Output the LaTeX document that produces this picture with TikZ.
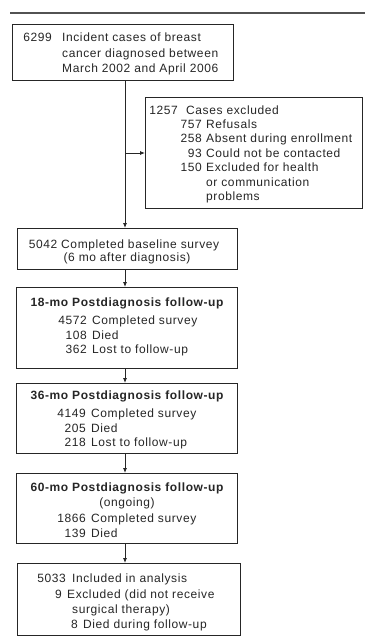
\documentclass[tikz,border=0pt]{standalone}
\usepackage{fontspec}
\setmainfont{Liberation Sans}[LetterSpace=5.0]
\usetikzlibrary{arrows.meta}
\definecolor{ink}{gray}{0.15}
\begin{document}
\begin{tikzpicture}[x=1pt,y=-1pt,
 box/.style={draw=ink, line width=0.8pt, inner sep=0pt, anchor=north west},
 txt/.style={inner sep=0pt, text=ink, font=\fontsize{12}{14}\selectfont},
 tl/.style={txt, anchor=base west},
 tr/.style={txt, anchor=base east},
 tc/.style={txt, anchor=base},
 ttl/.style={txt, anchor=base, font=\fontsize{12}{14}\selectfont\bfseries},
 arr/.style={draw=ink, line width=0.8pt, -{Latex[length=5pt,width=4pt]}}]
\useasboundingbox (0,0) rectangle (365,638);
\fill[white] (0,0) rectangle (365,638);
% header rule
\draw[ink!80, line width=1.2pt] (10,13) -- (365,13);
% boxes
\node[box, minimum width=221pt, minimum height=56pt] (b1) at (12,24) {};
\node[box, minimum width=217pt, minimum height=111pt] (ex) at (145,97) {};
\node[box, minimum width=220pt, minimum height=41pt] (b2) at (17,228) {};
\node[box, minimum width=221pt, minimum height=81pt] (b3) at (16,287) {};
\node[box, minimum width=221pt, minimum height=70pt] (b4) at (16,383) {};
\node[box, minimum width=221pt, minimum height=70pt] (b5) at (16,473) {};
\node[box, minimum width=223pt, minimum height=72pt] (b6) at (17,563) {};
% box 1
\node[tr] (n1) at (52,41) {6299};
\node[tl] (t1a) at (62,41) {Incident cases of breast};
\node[tl] (t1b) at (62,57) {cancer diagnosed between};
\node[tl] (t1c) at (62,72) {March 2002 and April 2006};
% exclusions
\node[tr] (ne0) at (178,114) {1257};
\node[tl] (te0) at (186,114) {Cases excluded};
\node[tr] (ne1) at (202,128) {757};
\node[tl] (te1) at (206,128) {Refusals};
\node[tr] (ne2) at (202,142) {258};
\node[tl] (te2) at (206,142) {Absent during enrollment};
\node[tr] (ne3) at (202,157) {93};
\node[tl] (te3) at (206,157) {Could not be contacted};
\node[tr] (ne4) at (202,171) {150};
\node[tl] (te4) at (206,171) {Excluded for health};
\node[tl] (te5) at (206,186) {or communication};
\node[tl] (te6) at (206,200) {problems};
% box 2
\node[tc] (t2a) at (124,248) {5042 Completed baseline survey};
\node[tc] (t2b) at (127,261) {(6 mo after diagnosis)};
% box 3
\node[ttl] (t3) at (127,306) {18-mo Postdiagnosis follow-up};
\node[tr] (n3a) at (87,324) {4572};
\node[tl] (t3a) at (92,324) {Completed survey};
\node[tr] (n3b) at (87,339) {108};
\node[tl] (t3b) at (92,339) {Died};
\node[tr] (n3c) at (87,353) {362};
\node[tl] (t3c) at (92,353) {Lost to follow-up};
% box 4
\node[ttl] (t4) at (127,399) {36-mo Postdiagnosis follow-up};
\node[tr] (n4a) at (86,417) {4149};
\node[tl] (t4a) at (91,417) {Completed survey};
\node[tr] (n4b) at (86,432) {205};
\node[tl] (t4b) at (91,432) {Died};
\node[tr] (n4c) at (86,446) {218};
\node[tl] (t4c) at (91,446) {Lost to follow-up};
% box 5
\node[ttl] (t5) at (127,491) {60-mo Postdiagnosis follow-up};
\node[tc] (t5b) at (127,506) {(ongoing)};
\node[tr] (n5a) at (86,522) {1866};
\node[tl] (t5a) at (91,522) {Completed survey};
\node[tr] (n5b) at (86,537) {139};
\node[tl] (t5c) at (91,537) {Died};
% box 6
\node[tr] (n6a) at (66,582) {5033};
\node[tl] (t6a) at (72,582) {Included in analysis};
\node[tr] (n6b) at (62,598) {9};
\node[tl] (t6b) at (67,598) {Excluded (did not receive};
\node[tl] (t6c) at (72,613) {surgical therapy)};
\node[tr] (n6d) at (78,628) {8};
\node[tl] (t6d) at (83,628) {Died during follow-up};
% connectors
\coordinate (j) at (125,153);
\draw[arr] (j |- b1.south) -- (j |- b2.north);
\draw[arr] (j) -- (ex.west |- j);
\draw[arr] (j |- b2.south) -- (j |- b3.north);
\draw[arr] (j |- b3.south) -- (j |- b4.north);
\draw[arr] (j |- b4.south) -- (j |- b5.north);
\draw[arr] (j |- b5.south) -- (j |- b6.north);
\end{tikzpicture}
\end{document}
